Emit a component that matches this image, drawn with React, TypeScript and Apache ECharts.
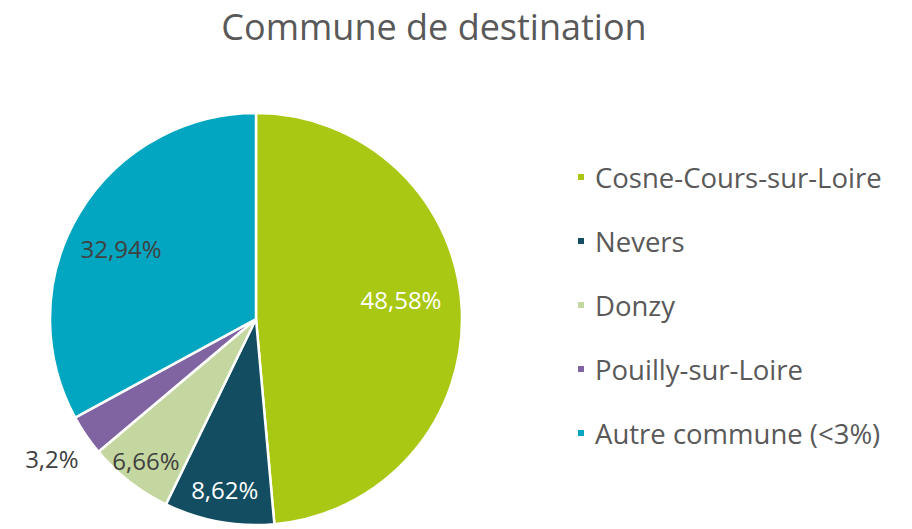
import React, { useEffect, useRef } from "react";
import * as echarts from "echarts";

const categories = ["Cosne-Cours-sur-Loire", "Nevers", "Donzy", "Pouilly-sur-Loire", "Autre commune (<3%)"];
const values = [48.58, 8.62, 6.66, 3.2, 32.94];
const colors = ["#A8C813", "#134D62", "#C4D7A0", "#8064A2", "#03A6C0"];
const labelColors = ["#FFFFFF", "#FFFFFF", "#404040", "#404040", "#404040"];
const labelRadiusRatio = [0.71, 0.84, 0.87, 1.2, 0.74];
const labelAngleOffset = [-5, 0, 0, 0, -3];

const CX = 256;
const CY = 319;
const R = 206;

function fmt(v: number) {
  return String(v).replace(".", ",") + "%";
}

export default function App() {
  const ref = useRef<HTMLDivElement>(null);
  useEffect(() => {
    document.body.style.margin = "0";
    const chart = echarts.init(ref.current!, null, { renderer: "svg" });
    const total = values.reduce((a, b) => a + b, 0);
    const mids: number[] = [];
    let acc = 0;
    values.forEach((v) => {
      mids.push(((acc + v / 2) / total) * 360);
      acc += v;
    });
    chart.setOption({
      animation: false,
      backgroundColor: "#FFFFFF",
      title: {
        text: "Commune de destination",
        left: 434,
        textAlign: "center",
        top: 3,
        padding: 0,
        textStyle: { fontFamily: "Open Sans", fontSize: 36, fontWeight: "normal", color: "#595959", lineHeight: 46 },
      },
      legend: {
        orient: "vertical",
        left: 576,
        top: 162,
        padding: 0,
        itemWidth: 8,
        itemHeight: 8,
        itemGap: 34,
        icon: "rect",
        textStyle: { fontFamily: "Open Sans", fontSize: 27.5, color: "#595959", padding: [0, 0, 0, 5], lineHeight: 30 },
        data: categories,
      },
      series: [
        {
          type: "pie",
          center: [CX, CY],
          radius: [0, R],
          startAngle: 90,
          clockwise: true,
          itemStyle: { borderColor: "#FFFFFF", borderWidth: 2.5 },
          label: {
            show: true,
            position: "inside",
            fontFamily: "Open Sans",
            fontSize: 24,
            formatter: (p: any) => fmt(p.value),
          },
          labelLine: { show: false },
          labelLayout: (p: any) => {
            const i = p.dataIndex;
            const a = ((mids[i] + labelAngleOffset[i]) * Math.PI) / 180;
            const rr = labelRadiusRatio[i] * R;
            return {
              x: CX + Math.sin(a) * rr,
              y: CY - Math.cos(a) * rr,
              align: "center",
              verticalAlign: "middle",
            };
          },
          data: categories.map((c, i) => ({
            name: c,
            value: values[i],
            itemStyle: { color: colors[i] },
            label: { color: labelColors[i] },
          })),
        },
      ],
    });
    return () => chart.dispose();
  }, []);
  return <div ref={ref} style={{ width: 912, height: 529 }} />;
}
